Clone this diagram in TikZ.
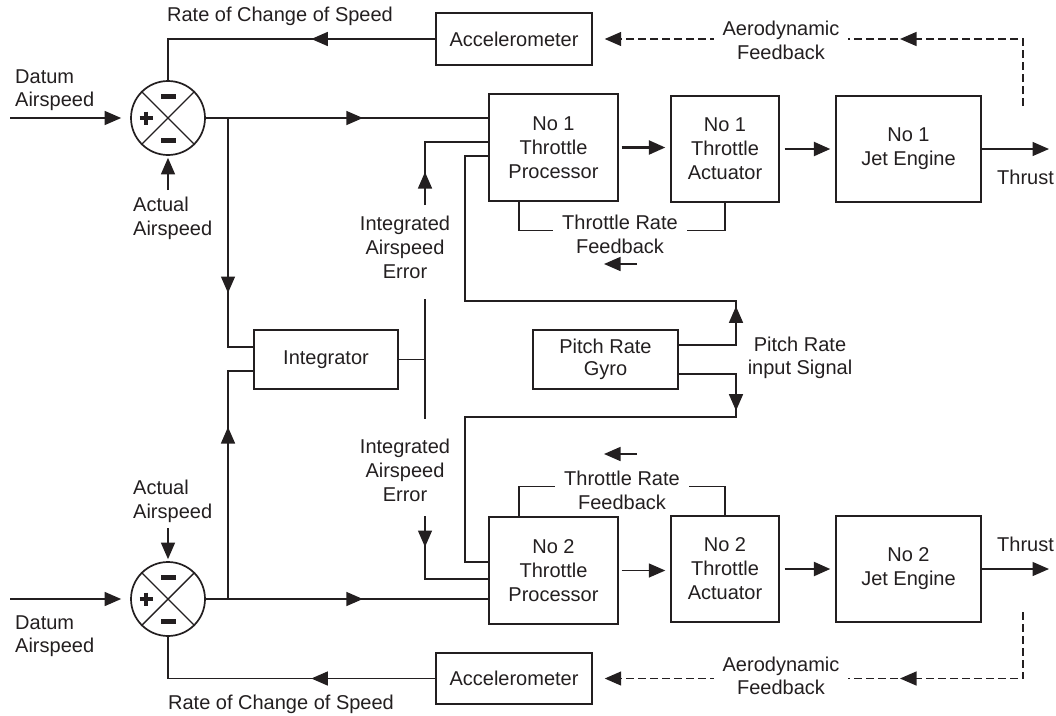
\documentclass[tikz,border=0pt]{standalone}
\usepackage{fontspec}
\setmainfont{Liberation Sans}
\usetikzlibrary{arrows.meta,decorations.markings}
\definecolor{ink}{RGB}{35,31,32}
\newcommand{\diagfont}{\fontsize{20}{24}\selectfont}
\newcommand{\diagfonttight}{\fontsize{20}{22.5}\selectfont}
\tikzset{
  wire/.style={draw=ink, line width=1.4pt},
  endtip/.style={-{Triangle[length=16.5pt,width=14pt]}},
  arr/.style={wire, endtip},
  heavyarr/.style={draw=ink, line width=2.4pt, endtip},
  fdash/.style={wire, dash pattern=on 8pt off 4pt, endtip},
  unitbox/.style={draw=ink, line width=1.4pt, rectangle, inner sep=0pt, align=center, font=\diagfont, text=ink},
  lbl/.style={inner sep=0pt, align=center, font=\diagfont, text=ink},
  lbltight/.style={inner sep=0pt, align=center, font=\diagfonttight, text=ink},
  sumjunction/.style={circle, draw=ink, line width=1.7pt, minimum size=74pt, inner sep=0pt},
  minussign/.style={rectangle, fill=ink, minimum width=15pt, minimum height=5pt, inner sep=0pt},
  midtip/.style={postaction={decorate}, decoration={markings, mark=at position #1 with {\arrow{Triangle[length=16.5pt,width=14pt]}}}},
  plussign/.pic={\draw[ink, line width=3.2pt] (-6.5,0) -- (6.5,0) (0,-6.5) -- (0,6.5);},
}
\begin{document}
\begin{tikzpicture}[x=1pt,y=-1pt]
\useasboundingbox (0,0) rectangle (1056,715);

% summing junctions
\node[sumjunction] (s1) at (168,118) {};
\node[sumjunction] (s2) at (168,599) {};
\foreach \s in {s1,s2}{
  \draw[wire] (\s.north west) -- (\s.south east) (\s.north east) -- (\s.south west);
  \pic at ([xshift=-22pt]\s.center) {plussign};
}
\node[minussign] (s1a) at ([yshift=22pt]s1.center) {};
\node[minussign] (s1b) at ([yshift=-22pt]s1.center) {};
\node[minussign] (s2a) at ([yshift=22pt]s2.center) {};
\node[minussign] (s2b) at ([yshift=-22pt]s2.center) {};

% blocks
\node[unitbox, minimum width=156pt, minimum height=52pt] (acc1) at (514,39) {Accelerometer};
\node[unitbox, minimum width=129pt, minimum height=107pt] (tp1) at (553.5,147.5) {No 1\\Throttle\\Processor};
\node[unitbox, minimum width=108pt, minimum height=106pt] (act1) at (725,149) {No 1\\Throttle\\Actuator};
\node[unitbox, minimum width=145pt, minimum height=106pt] (eng1) at (908.5,149) {No 1\\Jet Engine};
\node[unitbox, minimum width=144pt, minimum height=59pt] (integ) at (326,359.5) {Integrator};
\node[unitbox, font=\diagfonttight, minimum width=145pt, minimum height=59pt] (gyro) at (605.5,359.5) {Pitch Rate\\Gyro};
\node[unitbox, minimum width=129pt, minimum height=107pt] (tp2) at (553.5,570.5) {No 2\\Throttle\\Processor};
\node[unitbox, minimum width=108pt, minimum height=106pt] (act2) at (725,569) {No 2\\Throttle\\Actuator};
\node[unitbox, minimum width=145pt, minimum height=106pt] (eng2) at (908.5,569) {No 2\\Jet Engine};
\node[unitbox, minimum width=156pt, minimum height=51pt] (acc2) at (514,678.5) {Accelerometer};

% inputs to the junctions
\coordinate (datum1) at (10,118);
\coordinate (datum2) at (10,599);
\draw[arr, shorten >=9pt] (datum1) -- (s1.west);
\draw[arr, shorten >=9pt] (datum2) -- (s2.west);
\coordinate (actual1) at (168,190);
\coordinate (actual2) at (168,528);
\draw[arr, shorten >=2pt] (actual1) -- (s1.south);
\draw[arr, shorten >=2pt] (actual2) -- (s2.north);

% rate of change of speed feedback
\draw[wire, midtip=124pt] (acc1.west) -- (acc1.west -| s1.north) -- (s1.north);
\draw[wire, midtip=124pt] (acc2.west) -- (acc2.west -| s2.south) -- (s2.south);

% airspeed error to the processors
\draw[wire, midtip=157pt] (s1.east) -- (s1.east -| tp1.west);
\draw[wire, midtip=157pt] (s2.east) -- (s2.east -| tp2.west);

% integrator
\coordinate (j1) at (228,118);
\coordinate (j2) at (228,599);
\draw[wire, midtip=175pt] (j1) |- ([yshift=12.5pt]integ.west);
\draw[wire, midtip=172pt] (j2) |- ([yshift=-11.5pt]integ.west);
\coordinate (busTop) at (425,299);
\coordinate (busBot) at (425,419);
\draw[wire] (busTop) -- (busBot);
\draw[wire] (integ.east) -- (integ.east -| busTop);
\coordinate (ie1) at (425,205);
\coordinate (ie2) at (425,516);
\draw[wire, midtip=33pt] (ie1) |- ([yshift=5.5pt]tp1.west);
\draw[wire, midtip=31pt] (ie2) |- ([yshift=-8.5pt]tp2.west);

% pitch rate input signal
\coordinate (prTop) at (736,301);
\coordinate (plTop) at (465,301);
\coordinate (prBot) at (736,417);
\coordinate (plBot) at (465,417);
\draw[wire, midtip=96pt] ([yshift=14.5pt]gyro.east) -| (prTop) -- (plTop) |- ([yshift=-8.5pt]tp1.west);
\draw[wire, midtip=94pt] ([yshift=-14.5pt]gyro.east) -| (prBot) -- (plBot) |- ([yshift=8.5pt]tp2.west);

% forward chain
\draw[heavyarr, shorten <=3pt, shorten >=5pt] (tp1.east) -- (tp1.east -| act1.west);
\draw[heavyarr, shorten <=5pt, shorten >=5pt] (act1.east) -- (act1.east -| eng1.west);
\draw[arr, shorten <=3pt, shorten >=5pt] (tp2.east) -- (tp2.east -| act2.west);
\draw[heavyarr, shorten <=5pt, shorten >=5pt] (act2.east) -- (act2.east -| eng2.west);
\coordinate (thrust1) at (1049,149);
\coordinate (thrust2) at (1049,569);
\draw[arr] (eng1.east) -- (thrust1);
\draw[arr] (eng2.east) -- (thrust2);

% throttle rate feedback loops
\draw[wire] ([xshift=-34.5pt]tp1.south) -- ++(0,29) -| (act1.south);
\draw[wire] ([xshift=-34.5pt]tp2.north) -- ++(0,-30) -| (act2.north);
\coordinate (trfA1) at (637,264);
\coordinate (trfB1) at (604,264);
\coordinate (trfA2) at (637,454);
\coordinate (trfB2) at (604,454);
\draw[arr] (trfA1) -- (trfB1);
\draw[arr] (trfA2) -- (trfB2);

% aerodynamic feedback
\coordinate (aero1src) at (1023,106);
\coordinate (aero2src) at (1023,612);
\draw[fdash, midtip=190pt, shorten >=12pt] (aero1src) |- (acc1.east);
\draw[fdash, midtip=189.5pt, shorten >=12pt] (aero2src) |- (acc2.east);

% labels
\node[lbl] (roc1) at (280,16.5) {Rate of Change of Speed};
\node[lbl] (roc2) at (281,704.5) {Rate of Change of Speed};
\node[lbltight, anchor=west, align=left] (dat1) at (15,90) {Datum\\Airspeed};
\node[lbltight, anchor=west, align=left] (dat2) at (15,636) {Datum\\Airspeed};
\node[lbl, anchor=west, align=left] (actl1) at (133,218.5) {Actual\\Airspeed};
\node[lbl, anchor=west, align=left] (actl2) at (133,501) {Actual\\Airspeed};
\node[lbl] (iae1) at (405,247) {Integrated\\Airspeed\\Error};
\node[lbl] (iae2) at (405,470) {Integrated\\Airspeed\\Error};
\node[lbltight] (prl) at (800,358) {Pitch Rate\\input Signal};
\node[lbl, fill=white, inner xsep=9pt] (trf1) at (620,234.5) {Throttle Rate\\Feedback};
\node[lbl, fill=white, inner xsep=9pt] (trf2) at (622,490) {Throttle Rate\\Feedback};
\node[lbl, fill=white, inner xsep=9pt] (aero1) at (781,40) {Aerodynamic\\Feedback};
\node[lbltight, fill=white, inner xsep=9pt] (aero2) at (781,676) {Aerodynamic\\Feedback};
\node[lbl, anchor=west] (thr1) at (997,177) {Thrust};
\node[lbl, anchor=west] (thr2) at (997,544) {Thrust};
\end{tikzpicture}
\end{document}
